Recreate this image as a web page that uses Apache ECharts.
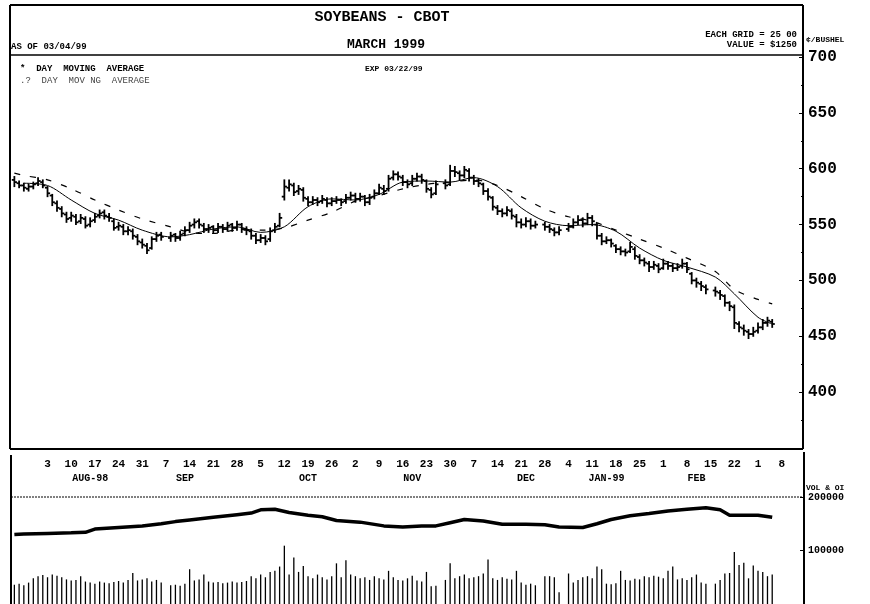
<!DOCTYPE html>
<html>
<head>
<meta charset="utf-8">
<script src="https://cdn.jsdelivr.net/npm/echarts@6/dist/echarts.min.js"></script>
<style>html,body{margin:0;padding:0;background:#fff}#c{width:870px;height:604px}</style>
</head>
<body>
<div id="c"></div>
<script>
// ---- categories: every weekday from 1998-07-23 to 1999-03-12 (calendar only)
const dates = [];
(function(){
  let t = Date.UTC(1998, 6, 23);
  const end = Date.UTC(1999, 2, 12);
  while (t <= end) {
    const d = new Date(t);
    const wd = d.getUTCDay();
    if (wd > 0 && wd < 6) dates.push(d.toISOString().slice(0, 10));
    t += 86400000;
  }
})();

// ---- daily OHLC, cents/bushel (index-aligned with dates; null = exchange holiday)
const open = [
590,587,585,582,584,587,588,583,576,569,
564,559,556,557,553,555,550,554,558,561,
557,553,548,548,544,544,539,534,531,529,
537,541,null,538,541,538,542,545,550,553,
549,546,548,545,548,546,550,547,550,546,
544,540,536,538,537,545,549,575,583,585,
580,581,573,570,572,571,572,569,571,572,
571,574,576,573,575,570,575,578,582,582,
592,595,592,588,587,591,593,589,581,578,
null,587,586,598,596,594,598,592,589,586,
580,574,565,562,560,562,557,552,550,553,
549,null,550,548,545,543,null,546,548,552,
554,551,556,550,540,535,536,531,528,526,
526,528,521,518,515,512,513,511,515,513,
511,513,515,506,500,497,494,null,491,489,
486,480,476,461,457,454,452,455,458,462,
463];
const high = [
593,589,587,586,588,592,590,584,577,571,
566,561,561,559,559,557,556,560,563,563,
560,555,552,550,548,546,541,537,533,539,
543,543,null,543,542,544,548,552,555,555,
551,550,549,551,550,552,551,553,551,548,
546,542,541,540,547,551,560,590,590,587,
585,583,575,575,574,576,574,574,575,573,
577,579,578,578,576,577,581,586,585,594,
598,597,594,590,594,596,595,590,583,589,
null,590,603,602,598,602,600,594,591,587,
582,575,567,564,566,564,559,555,556,555,
553,null,552,550,547,548,null,551,555,558,
556,560,558,551,542,539,537,532,530,528,
534,530,523,520,517,517,515,519,517,515,
515,519,516,507,502,499,496,null,494,491,
487,481,478,463,460,456,458,462,465,467,
465];
const low = [
584,583,580,580,582,585,583,575,567,562,
557,552,553,550,551,547,548,552,556,555,
553,545,545,541,541,537,532,529,524,528,
535,536,null,535,535,536,540,543,547,547,
543,543,542,543,543,544,544,545,543,541,
537,533,534,532,535,543,548,572,580,576,
577,571,567,568,567,569,566,567,569,567,
569,572,570,571,567,568,573,577,577,580,
590,590,585,583,585,589,587,579,574,577,
null,582,585,593,590,592,589,586,584,577,
572,563,559,557,558,555,548,547,548,546,
547,null,545,543,540,541,null,544,547,550,
548,550,549,537,532,533,530,525,523,522,
525,519,515,513,508,510,507,510,510,508,
509,511,507,497,494,491,488,null,486,483,
477,473,457,454,451,448,450,453,456,459,
458];
const close = [
588,585,583,584,586,589,585,578,570,565,
560,555,558,552,556,549,553,557,560,558,
556,547,549,544,545,540,535,532,527,537,
540,539,null,540,538,541,545,549,552,550,
546,547,545,548,546,549,547,550,546,545,
540,536,538,535,544,548,556,584,586,579,
582,574,570,572,570,573,569,571,572,570,
574,576,573,575,570,574,578,583,580,591,
595,593,588,586,591,593,590,582,577,586,
null,585,598,597,594,599,592,589,587,580,
575,566,562,560,563,558,552,550,553,549,
550,null,548,546,543,545,null,548,552,554,
551,556,553,540,535,536,533,528,526,525,
530,522,518,516,512,514,510,515,513,511,
512,515,510,500,498,495,492,null,490,487,
480,477,462,458,455,452,454,458,462,464,
461];

// ---- daily volume (contracts)
const volume = [
36000,38000,35000,40000,48000,52000,54000,50000,55000,53000,
50000,46000,44000,45000,52000,42000,40000,38000,42000,40000,
39000,41000,43000,40000,45000,58000,44000,46000,48000,42000,
45000,40000,null,35000,36000,34000,38000,65000,44000,46000,
55000,42000,40000,41000,39000,40000,42000,40000,41000,43000,
52000,48000,55000,50000,60000,62000,70000,109000,55000,87000,
60000,71000,52000,48000,55000,50000,46000,52000,76000,50000,
82000,55000,52000,48000,50000,45000,52000,48000,46000,62000,
50000,45000,44000,48000,53000,44000,42000,60000,33000,34000,
null,45000,76000,48000,52000,55000,48000,50000,52000,57000,
83000,48000,45000,50000,47000,46000,62000,40000,36000,38000,
35000,null,52000,52000,50000,22000,null,57000,40000,45000,
50000,52000,48000,70000,65000,38000,37000,39000,62000,45000,
44000,47000,46000,52000,50000,53000,51000,48000,62000,70000,
46000,48000,45000,50000,55000,40000,38000,null,38000,45000,
57000,58000,97000,73000,77000,48000,72000,62000,60000,52000,
55000];

// ---- open interest, read at points along the line
const openInterest = [
["1998-07-23",130000],["1998-07-27",131000],["1998-08-03",132000],["1998-08-10",133000],
["1998-08-13",134000],["1998-08-17",140000],["1998-08-24",143000],["1998-08-31",146000],
["1998-09-04",150000],["1998-09-09",154000],["1998-09-14",157000],["1998-09-21",162000],
["1998-09-28",167000],["1998-10-01",170000],["1998-10-05",176000],["1998-10-08",177000],
["1998-10-13",171000],["1998-10-19",166000],["1998-10-22",163000],["1998-10-27",156000],
["1998-11-03",153000],["1998-11-10",146000],["1998-11-16",144000],["1998-11-20",146000],
["1998-11-25",146000],["1998-11-30",152000],["1998-12-03",158000],["1998-12-09",155000],
["1998-12-15",149000],["1998-12-22",149000],["1998-12-28",148000],["1998-12-31",144000],
["1999-01-07",143000],["1999-01-12",150000],["1999-01-15",158000],["1999-01-21",165000],
["1999-01-27",169000],["1999-02-02",174000],["1999-02-08",177000],["1999-02-12",180000],
["1999-02-17",176000],["1999-02-19",166000],["1999-02-24",166000],["1999-03-01",166000],
["1999-03-04",162000]];

// ---- moving averages
const maShort = [
["1998-07-27",587],["1998-08-03",585],["1998-08-10",572],["1998-08-17",560],["1998-08-24",554],
["1998-08-31",545],["1998-09-08",539],["1998-09-14",541],["1998-09-21",546],["1998-09-28",548],
["1998-10-05",543],["1998-10-12",548],["1998-10-19",566],["1998-10-26",573],["1998-11-02",572],
["1998-11-09",577],["1998-11-16",588],["1998-11-23",589],["1998-11-30",588],["1998-12-07",592],
["1998-12-14",584],["1998-12-21",565],["1998-12-28",553],["1999-01-04",549],["1999-01-11",550],
["1999-01-18",544],["1999-01-25",529],["1999-02-01",518],["1999-02-08",512],["1999-02-16",503],
["1999-02-22",488],["1999-03-01",467],["1999-03-04",461]];
const maLong = [
["1998-07-23",596],["1998-07-27",594],["1998-08-03",590],["1998-08-10",582],["1998-08-17",572],
["1998-08-24",563],["1998-08-31",555],["1998-09-08",548],["1998-09-14",543],["1998-09-21",542],
["1998-09-28",545],["1998-10-05",545],["1998-10-12",547],["1998-10-19",554],["1998-10-26",561],
["1998-11-02",571],["1998-11-09",576],["1998-11-16",582],["1998-11-23",586],["1998-11-30",588],
["1998-12-07",590],["1998-12-14",585],["1998-12-21",575],["1998-12-28",564],["1999-01-04",557],
["1999-01-11",553],["1999-01-18",545],["1999-01-25",537],["1999-02-01",529],["1999-02-08",520],
["1999-02-16",508],["1999-02-22",492],["1999-03-01",483],["1999-03-04",479]];

// ---- axis tick labels
const firstDayLabel = "1998-08-03";
const monthLabels = [["1998-08-14","AUG-98"],["1998-09-11","SEP"],["1998-10-19","OCT"],
["1998-11-18","NOV"],["1998-12-22","DEC"],["1999-01-14","JAN-99"],["1999-02-10","FEB"]];
const priceTicks = [350, 700, 50];
const volTicks = [0, 200000, 100000];

// ---- build
const MONO = '"Liberation Mono", "DejaVu Sans Mono", monospace';
const monthMap = new Map(monthLabels);
const ohlc = [];
for (let i = 0; i < close.length; i++) {
  if (close[i] == null) continue;
  ohlc.push([i, open[i], high[i], low[i], close[i]]);
}
const toIdx = arr => arr.map(p => [dates.indexOf(p[0]), p[1]]);
const volData = volume.map((v, i) => [i, v]).filter(p => p[1] != null);

function isMonday(v) { return new Date(v + 'T00:00:00Z').getUTCDay() === 1; }

const chart = echarts.init(document.getElementById('c'), null, {renderer: 'canvas'});
const lbl = (s, x, y, size, align, fill, weight) => ({
  type: 'text', x: x, y: y, z: 60,
  style: {text: s, font: (weight || 'bold') + ' ' + size + 'px ' + MONO, fill: fill || '#000',
    textAlign: align || 'left', textVerticalAlign: 'middle'}
});
const ln = (x1, y1, x2, y2, w, dash) => ({type: 'line', shape: {x1, y1, x2, y2},
  style: {stroke: '#000', lineWidth: w, lineDash: dash || null}, z: 50});

chart.setOption({
  animation: false,
  backgroundColor: '#fff',
  grid: [
    {left: 12, right: 67, top: 57, height: 391},
    {left: 12, right: 67, top: 497, height: 110}
  ],
  xAxis: [
    {type: 'category', gridIndex: 0, data: dates, position: 'bottom', boundaryGap: true,
     axisLine: {show: false}, axisTick: {show: false}, splitLine: {show: false},
     axisLabel: {interval: (i, v) => isMonday(v) && v >= firstDayLabel,
       formatter: v => String(parseInt(v.slice(8), 10)),
       margin: 11, fontFamily: MONO, fontWeight: 'bold', fontSize: 11, color: '#000'}},
    {type: 'category', gridIndex: 0, data: dates, position: 'bottom', boundaryGap: true,
     axisLine: {show: false}, axisTick: {show: false}, splitLine: {show: false},
     axisLabel: {interval: (i, v) => monthMap.has(v), formatter: v => monthMap.get(v) || '',
       margin: 25, fontFamily: MONO, fontWeight: 'bold', fontSize: 10, color: '#000'}},
    {type: 'category', gridIndex: 1, data: dates, boundaryGap: true, show: false}
  ],
  yAxis: [
    {type: 'value', gridIndex: 0, position: 'right', min: priceTicks[0], max: priceTicks[1], interval: priceTicks[2],
     axisLine: {show: false}, splitLine: {show: false},
     axisTick: {show: true, inside: true, length: 4, lineStyle: {color: '#000'}},
     minorTick: {show: true, splitNumber: 2, length: 2, lineStyle: {color: '#000'}},
     axisLabel: {showMinLabel: false, margin: 5, fontFamily: MONO, fontWeight: 'bold', fontSize: 16, color: '#000'}},
    {type: 'value', gridIndex: 1, position: 'right', min: volTicks[0], max: volTicks[1], interval: volTicks[2],
     axisLine: {show: false}, splitLine: {show: false},
     axisTick: {show: true, inside: true, length: 3, lineStyle: {color: '#000'}},
     axisLabel: {showMinLabel: false, margin: 5, formatter: v => String(v),
       fontFamily: MONO, fontWeight: 'bold', fontSize: 10, color: '#000'}}
  ],
  series: [
    {type: 'custom', xAxisIndex: 0, yAxisIndex: 0, data: ohlc, encode: {x: 0, y: [1, 2, 3, 4]},
     renderItem: function (params, api) {
       const x = api.value(0);
       const o = api.coord([x, api.value(1)]);
       const h = api.coord([x, api.value(2)]);
       const l = api.coord([x, api.value(3)]);
       const c = api.coord([x, api.value(4)]);
       const st = {stroke: '#000', lineWidth: 1.8};
       return {type: 'group', children: [
         {type: 'line', shape: {x1: h[0], y1: h[1] - 0.5, x2: l[0], y2: l[1] + 0.5}, style: st},
         {type: 'line', shape: {x1: o[0] - 2.6, y1: o[1], x2: o[0], y2: o[1]}, style: st},
         {type: 'line', shape: {x1: c[0], y1: c[1], x2: c[0] + 2.6, y2: c[1]}, style: st}
       ]};
     }},
    {type: 'line', xAxisIndex: 0, yAxisIndex: 0, data: toIdx(maShort), symbol: 'none', smooth: 0.3,
     lineStyle: {color: '#000', width: 1}},
    {type: 'line', xAxisIndex: 0, yAxisIndex: 0, data: toIdx(maLong), symbol: 'none', smooth: 0.3,
     lineStyle: {color: '#000', width: 1.2, type: [6, 10]}},
    {type: 'bar', xAxisIndex: 2, yAxisIndex: 1, data: volData, barWidth: 1.3,
     itemStyle: {color: '#000'}},
    {type: 'line', xAxisIndex: 2, yAxisIndex: 1, data: toIdx(openInterest), symbol: 'none',
     lineStyle: {color: '#000', width: 3.5}}
  ],
  graphic: [
    ln(10, 5, 803, 5, 2), ln(10, 5, 10, 449, 2), ln(803, 5, 803, 449, 2), ln(10, 449, 803, 449, 2),
    ln(10, 55, 803, 55, 1.5),
    ln(11, 455, 11, 604, 2), ln(11, 497, 803, 497, 1, [2, 1]), ln(804, 452, 804, 604, 2),
    lbl('SOYBEANS - CBOT', 382, 17, 15, 'center'),
    lbl('MARCH 1999', 386, 45, 13, 'center'),
    lbl('AS OF 03/04/99', 11, 47, 9, 'left'),
    lbl('*  DAY  MOVING  AVERAGE', 20, 69, 9, 'left'),
    lbl('.?  DAY  MOV NG  AVERAGE', 20, 81, 9, 'left', '#444', 'normal'),
    lbl('EXP 03/22/99', 365, 69, 8, 'left'),
    lbl('EACH GRID = 25 00', 797, 35, 9, 'right'),
    lbl('VALUE = $1250', 797, 45, 9, 'right'),
    lbl('\u00A2/BUSHEL', 806, 40, 8, 'left'),
    lbl('VOL & OI', 806, 488, 8, 'left')
  ]
});
</script>
</body>
</html>
